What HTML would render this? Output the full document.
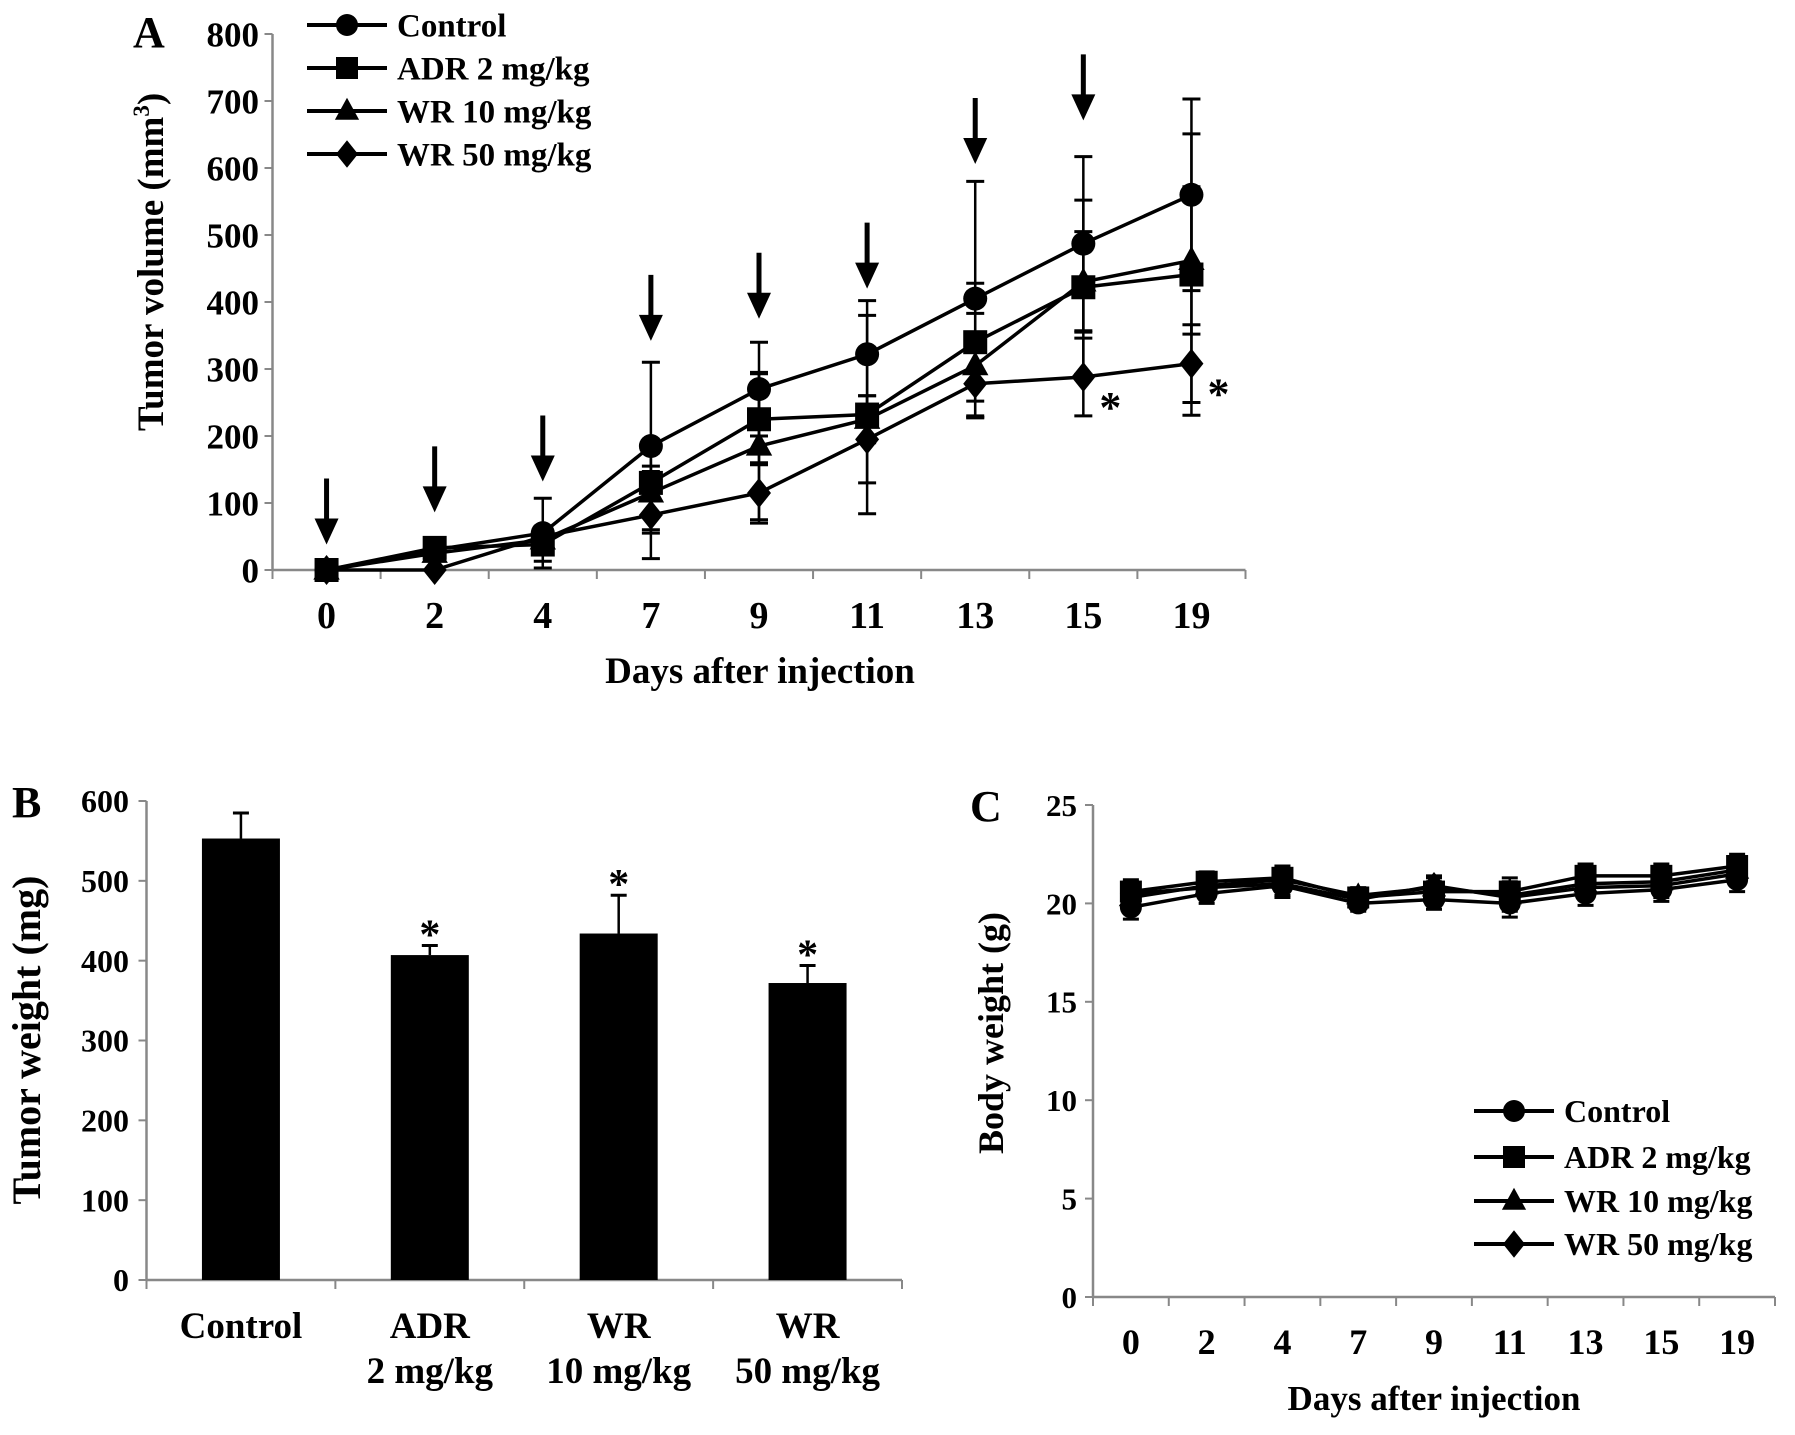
<!DOCTYPE html>
<html><head><meta charset="utf-8"><style>
html,body{margin:0;padding:0;background:#fff;}
svg{display:block;font-family:"Liberation Serif",serif;font-weight:bold;}
</style></head><body>
<svg id="fig" width="1795" height="1435" viewBox="0 0 1795 1435"></svg>
<script>
const days=["0","2","4","7","9","11","13","15","19"];
const seriesNames=["Control","ADR 2 mg/kg","WR 10 mg/kg","WR 50 mg/kg"];
const markers=["circle","square","triangle","diamond"];
// Panel A
const aControl=[0,30,55,185,270,322,405,487,560];
const aControlErr=[0,5,52,125,70,80,175,130,143];
const aADR=[0,33,38,130,225,232,340,422,441];
const aADRErr=[0,5,25,25,68,148,88,130,210];
const aWR10=[0,25,45,115,185,225,305,430,462];
const aWR10Err=[0,5,20,60,110,35,78,75,110];
const aWR50=[0,0,50,82,115,195,278,288,308];
const aWR50Err=[0,0,10,65,45,65,50,58,58];
const aArrowDays=[0,1,2,3,4,5,6,7];
const aArrowTips=[38,86,132,342,375,420,606,671];
const aYTicks=[0,100,200,300,400,500,600,700,800];
const aStars=[[7,288],[8,308]];
// Panel B
const bCats=[["Control"],["ADR","2 mg/kg"],["WR","10 mg/kg"],["WR","50 mg/kg"]];
const bVals=[553,407,434,372];
const bErr=[32,12,48,22];
const bStar=[false,true,true,true];
const bYTicks=[0,100,200,300,400,500,600];
// Panel C
const cControl=[19.8,20.5,20.9,20.0,20.2,20.0,20.5,20.7,21.2];
const cADR=[20.6,21.1,21.3,20.3,20.6,20.6,21.4,21.4,21.9];
const cWR10=[20.3,20.9,21.2,20.4,20.8,20.4,21.0,21.1,21.7];
const cWR50=[20.5,20.8,21.0,20.2,20.9,20.3,20.8,20.9,21.5];
const cErr=[0.6,0.5,0.6,0.4,0.5,0.7,0.6,0.6,0.6];
const cYTicks=[0,5,10,15,20,25];

const NS="http://www.w3.org/2000/svg";
const svg=document.getElementById('fig');
function el(tag,attrs,parent,text){const e=document.createElementNS(NS,tag);for(const k in attrs)e.setAttribute(k,attrs[k]);if(text!==undefined)e.textContent=text;(parent||svg).appendChild(e);return e;}
function grp(name){const g=el('g',{});return g;}
function marker(g,type,x,y,s){
  let e;
  if(type==="circle")e=el('circle',{cx:x,cy:y,r:s},g);
  else if(type==="square")e=el('rect',{x:x-s,y:y-s,width:2*s,height:2*s},g);
  else if(type==="triangle")e=el('polygon',{points:`${x},${y-s*1.2} ${x+s*1.1},${y+s*0.8} ${x-s*1.1},${y+s*0.8}`},g);
  else e=el('polygon',{points:`${x},${y-s*1.25} ${x+s},${y} ${x},${y+s*1.25} ${x-s},${y}`},g);
  e.setAttribute('fill','#000');return e;
}
function axes(g,x0,x1,y0,y1,n,ticks,yOf,labX,fs){
  el('line',{x1:x0,y1:y0,x2:x1,y2:y0,stroke:'#888','stroke-width':2.5},g);
  el('line',{x1:x0,y1:y1,x2:x0,y2:y0,stroke:'#888','stroke-width':2.5},g);
  const step=(x1-x0)/n;
  for(let i=0;i<=n;i++)el('line',{x1:x0+i*step,y1:y0,x2:x0+i*step,y2:y0+9,stroke:'#888','stroke-width':2},g);
  ticks.forEach(t=>{const y=yOf(t);el('line',{x1:x0-8,y1:y,x2:x0,y2:y,stroke:'#888','stroke-width':2},g);
    const tx=el('text',{x:labX,y:y+fs*0.35,'text-anchor':'end','font-size':fs},g,String(t));
    });
}
function lineSeries(g,vals,errs,xOf,yOf,type,ms,cap){
  vals.forEach((v,i)=>{if(errs[i]>0){const x=xOf(i);
    el('line',{x1:x,y1:yOf(v-errs[i]),x2:x,y2:yOf(v+errs[i]),stroke:'#000','stroke-width':2.5},g);
    [v-errs[i],v+errs[i]].forEach(e=>el('line',{x1:x-cap,y1:yOf(e),x2:x+cap,y2:yOf(e),stroke:'#000','stroke-width':3},g));}});
  el('polyline',{points:vals.map((v,i)=>xOf(i)+','+yOf(v)).join(' '),fill:'none',stroke:'#000','stroke-width':3.5},g);
  vals.forEach((v,i)=>marker(g,type,xOf(i),yOf(v),ms));
}
function legend(g,x,ys,fs){
  seriesNames.forEach((n,i)=>{const lg=el('g',{},g);
    
    el('line',{x1:x,y1:ys[i],x2:x+80,y2:ys[i],stroke:'#000','stroke-width':4},lg);
    marker(lg,markers[i],x+40,ys[i],11);
    el('text',{x:x+90,y:ys[i]+fs*0.35,'font-size':fs},lg,n);});
}

// ---- Panel A
(function(){
  const g=grp('panel-a');
  const X0=272.5,X1=1245.5,Y0=570,Y1=34;
  const step=(X1-X0)/days.length;
  const xOf=i=>X0+step*(i+0.5), yOf=v=>Y0-(v/800)*(Y0-Y1);
  axes(g,X0,X1,Y0,Y1,days.length,aYTicks,yOf,259,35);
  days.forEach((d,i)=>{const t=el('text',{x:xOf(i),y:628,'text-anchor':'middle','font-size':38},g,d);});
  const yt=el('text',{x:0,y:0,'text-anchor':'middle','font-size':37,transform:'translate(163,262) rotate(-90)'},g);
  
  yt.innerHTML='Tumor volume (mm<tspan font-size="23" dy="-14">3</tspan><tspan dy="14">)</tspan>';
  const xt=el('text',{x:760,y:683,'text-anchor':'middle','font-size':37},g,'Days after injection');
  
  const lab=el('text',{x:133,y:47,'font-size':44},g,'A');
  const data=[[aControl,aControlErr],[aADR,aADRErr],[aWR10,aWR10Err],[aWR50,aWR50Err]];
  data.forEach((d,k)=>{const sg=el('g',{},g);
    lineSeries(sg,d[0],d[1],xOf,yOf,markers[k],12,9);});
  aArrowDays.forEach((di,i)=>{const ag=el('g',{},g);
    const x=xOf(di),yt2=yOf(aArrowTips[i]);
    el('line',{x1:x,y1:yt2-66,x2:x,y2:yt2-20,stroke:'#000','stroke-width':5},ag);
    el('polygon',{points:`${x-12},${yt2-26} ${x+12},${yt2-26} ${x},${yt2}`,fill:'#000'},ag);});
  aStars.forEach(s=>{const t=el('text',{x:xOf(s[0])+16,y:yOf(s[1])+45,'font-size':44},g,'*');});
  legend(g,307,[25,68,111,154],33);
})();

// ---- Panel B
(function(){
  const g=grp('panel-b');
  const X0=146.5,X1=902,Y0=1280,Y1=801;
  const step=(X1-X0)/bVals.length;
  const xOf=i=>X0+step*(i+0.5), yOf=v=>Y0-(v/600)*(Y0-Y1);
  axes(g,X0,X1,Y0,Y1,bVals.length,bYTicks,yOf,129,32);
  bVals.forEach((v,i)=>{const bg=el('g',{},g);
    const x=xOf(i);
    el('line',{x1:x,y1:yOf(v),x2:x,y2:yOf(v+bErr[i]),stroke:'#000','stroke-width':2.5},bg);
    el('line',{x1:x-8,y1:yOf(v+bErr[i]),x2:x+8,y2:yOf(v+bErr[i]),stroke:'#000','stroke-width':3},bg);
    el('rect',{x:x-39,y:yOf(v),width:78,height:Y0-yOf(v),fill:'#000'},bg);
    if(bStar[i]){const t=el('text',{x:x,y:yOf(v+bErr[i])+3,'text-anchor':'middle','font-size':42},bg,'*');}
    bCats[i].forEach((l,j)=>{const t=el('text',{x:x,y:1338+j*45,'text-anchor':'middle','font-size':37},g,l);});});
  const yt=el('text',{x:0,y:0,'text-anchor':'middle','font-size':40,transform:'translate(40,1040) rotate(-90)'},g,'Tumor weight (mg)');
  
  const lab=el('text',{x:12,y:817,'font-size':44},g,'B');
})();

// ---- Panel C
(function(){
  const g=grp('panel-c');
  const X0=1093,X1=1775,Y0=1297,Y1=805;
  const step=(X1-X0)/days.length;
  const xOf=i=>X0+step*(i+0.5), yOf=v=>Y0-(v/25)*(Y0-Y1);
  axes(g,X0,X1,Y0,Y1,days.length,cYTicks,yOf,1077,31);
  days.forEach((d,i)=>{const t=el('text',{x:xOf(i),y:1354,'text-anchor':'middle','font-size':36},g,d);});
  const yt=el('text',{x:0,y:0,'text-anchor':'middle','font-size':36,transform:'translate(1003,1033) rotate(-90)'},g,'Body weight (g)');
  
  const xt=el('text',{x:1434,y:1410,'text-anchor':'middle','font-size':35},g,'Days after injection');
  
  const lab=el('text',{x:970,y:821,'font-size':44},g,'C');
  [cControl,cADR,cWR10,cWR50].forEach((d,k)=>{const sg=el('g',{},g);
    lineSeries(sg,d,cErr,xOf,yOf,markers[k],11,8);});
  legend(g,1474,[1111,1157,1201,1244],32);
})();
</script>
</body></html>
